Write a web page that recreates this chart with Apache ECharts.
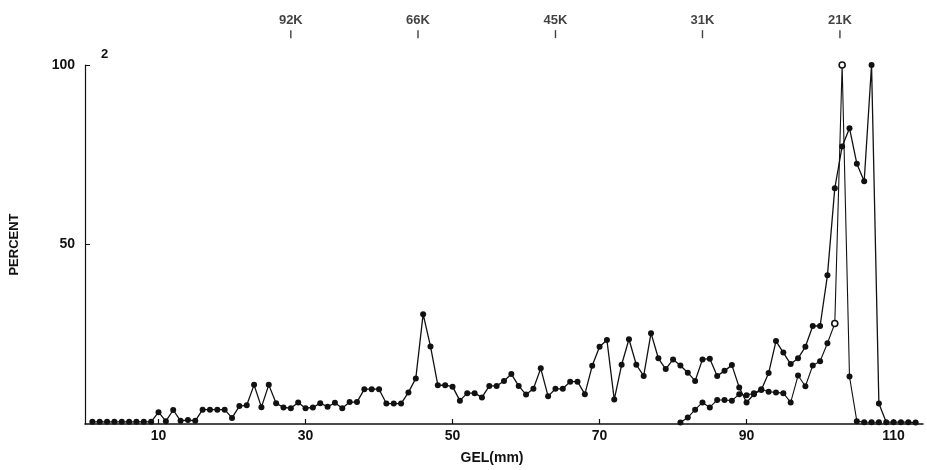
<!DOCTYPE html>
<html>
<head>
<meta charset="utf-8">
<script src="https://cdn.jsdelivr.net/npm/echarts@6/dist/echarts.min.js"></script>
<style>html,body{margin:0;padding:0;background:#fff}#c{width:927px;height:470px}</style>
</head>
<body>
<div id="c"></div>
<script>
// Main curve (filled dots), gel position in mm and percent
const gelMain = [1,2,3,4,5,6,7,8,9,10,11,12,13,14,15,16,17,18,19,20,21,22,23,24,25,26,27,28,29,30,
  31,32,33,34,35,36,37,38,39,40,41,42,43,44,45,46,47,48,49,50,51,52,53,54,55,56,57,58,59,60,
  61,62,63,64,65,66,67,68,69,70,71,72,73,74,75,76,77,78,79,80,81,82,83,84,85,86,87,88,89,90,
  91,92,93,94,95,96,97,98,99,100,101,102,103,104,105,106,107,108,109,110,111,112,113];
const pctMain = [0.6,0.6,0.6,0.6,0.6,0.6,0.6,0.6,0.6,3.3,0.8,3.9,0.9,1.1,0.9,4,4,4,4,1.7,
  5,5.2,10.9,4.7,10.9,5.8,4.6,4.4,6,4.4,4.6,5.8,4.8,5.9,4.4,6.1,6.1,9.7,9.7,9.7,
  5.7,5.7,5.7,8.8,12.7,30.6,21.6,10.8,10.8,10.4,6.5,8.6,8.6,7.4,10.6,10.6,12,13.9,10.6,8.2,
  9.8,15.5,7.7,9.8,9.8,11.8,11.8,8.3,16.2,21.5,23.4,6.8,16.5,23.6,16.5,13.4,25.3,18.3,15.3,18,
  16.3,14.3,12,18,18.2,13.4,14.8,16.4,10.2,6,8.3,9.5,14.2,23.1,19.9,16.7,18.3,21.5,27.3,27.3,
  41.4,65.7,77.3,82.4,72.5,67.6,100,5.7,0.5,0.5,0.5,0.5,0.4];
// Second curve
const gelB = [81,82,83,84,85,86,87,88,89,90,91,92,93,94,95,96,97,98,99,100,101,102,103,104,105,106,107,108];
const pctB = [0.4,1.8,4,6,4.6,6.7,6.7,6.5,8.3,8,8.6,9.7,9,8.8,8.6,6,13.5,10.5,16.3,17.5,22.5,28,100,13.2,0.8,0.5,0.5,0.5];
const openGelB = [102,103];
// Molecular weight markers along the top
const markerLabels = ['92K','66K','45K','31K','21K'];
const markerGel = [28,45.3,64,84,102.7];
const markerLevel = 108.6;
// Axis tick labels
const xTicks = [10,30,50,70,90,110];
const yTicks = [50,100];

const font = 'Liberation Sans, Arial, sans-serif';
const chart = echarts.init(document.getElementById('c'), null, {renderer:'canvas'});
chart.setOption({
  animation:false,
  backgroundColor:'#fff',
  title:{text:'2', left:96, top:43, textStyle:{fontSize:13, fontWeight:'bold', color:'#111', fontFamily:font}},
  grid:{left:85, top:65, width:838, height:360, containLabel:false},
  xAxis:{
    type:'value', min:0, max:114,
    name:'GEL(mm)', nameLocation:'middle', nameGap:27,
    nameTextStyle:{fontSize:14, fontWeight:'bold', color:'#111', fontFamily:font, padding:[0,24,0,0]},
    axisLine:{lineStyle:{color:'#111', width:1.5}},
    axisTick:{show:true, inside:true, length:5, customValues:xTicks, lineStyle:{color:'#111', width:1.2}},
    axisLabel:{customValues:xTicks, margin:5, fontSize:14, fontWeight:'bold', color:'#111', fontFamily:font},
    splitLine:{show:false}
  },
  yAxis:{
    type:'value', min:0, max:100,
    name:'PERCENT', nameLocation:'middle', nameGap:64, nameRotate:90,
    nameTextStyle:{fontSize:13, fontWeight:'bold', color:'#111', fontFamily:font},
    axisLine:{show:true, lineStyle:{color:'#111', width:1.2}},
    axisTick:{show:true, inside:true, length:5, customValues:yTicks, lineStyle:{color:'#111'}},
    axisLabel:{customValues:yTicks, margin:10, fontSize:14, fontWeight:'bold', color:'#111', fontFamily:font},
    splitLine:{show:false}
  },
  series:[
    {
      type:'line', name:'main',
      data: gelMain.map((g,i)=>[g,pctMain[i]]),
      symbol:'circle', symbolSize:6, showSymbol:true,
      lineStyle:{color:'#111', width:1.3},
      itemStyle:{color:'#111'}
    },
    {
      type:'line', name:'second',
      data: gelB.map((g,i)=>{
        const open = openGelB.indexOf(g) >= 0;
        return open ? {value:[g,pctB[i]], itemStyle:{color:'#fff', borderColor:'#111', borderWidth:1.6}} : [g,pctB[i]];
      }),
      symbol:'circle', symbolSize:6, showSymbol:true,
      lineStyle:{color:'#111', width:1.1},
      itemStyle:{color:'#111'}
    },
    {
      type:'scatter', name:'markers', clip:false,
      data: markerGel.map((g,i)=>[g, markerLevel]),
      symbol:'rect', symbolSize:[1.4,8],
      itemStyle:{color:'#111'},
      label:{show:true, position:'top', distance:3, formatter:p=>markerLabels[p.dataIndex],
        fontSize:13, fontWeight:'bold', color:'#111', fontFamily:font},
      silent:true
    }
  ]
});
</script>
</body>
</html>
